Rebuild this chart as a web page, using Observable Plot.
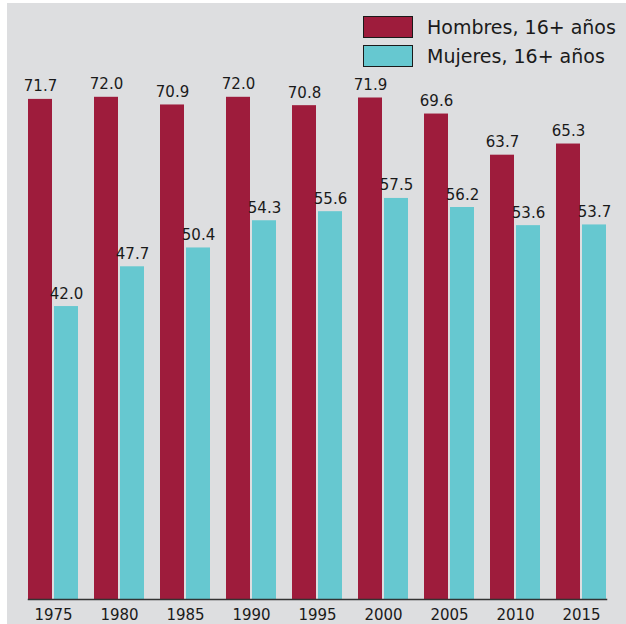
<!DOCTYPE html>
<html>
<head>
<meta charset="utf-8">
<script src="https://cdn.jsdelivr.net/npm/d3@7"></script>
<script src="https://cdn.jsdelivr.net/npm/@observablehq/plot@0.6"></script>
<style>
  html, body { margin: 0; padding: 0; background: #ffffff; }
  #panel { position: absolute; left: 7px; top: 3px; width: 619px; height: 621px; background: #dddee0; overflow: hidden; }
  #chart { position: absolute; left: 0; top: 0; }
  .leg { position: absolute; left: 356px; font-family: "DejaVu Sans", sans-serif; font-size: 19px; color: #1a1a1a; }
  .leg .row { position: absolute; left: 0; height: 22px; line-height: 22px; white-space: nowrap; }
  .leg .box { position: absolute; left: 0; top: 0; width: 50px; height: 22px; box-sizing: border-box; border: 1.5px solid #1a1a1a; }
  .leg .lab { position: absolute; left: 64px; top: 0; }
</style>
</head>
<body>
<div id="panel">
  <div id="chart"></div>
  <div class="leg" id="legend"></div>
</div>
<script>
const years = ["1975", "1980", "1985", "1990", "1995", "2000", "2005", "2010", "2015"];
const hombres = [71.7, 72.0, 70.9, 72.0, 70.8, 71.9, 69.6, 63.7, 65.3];
const mujeres = [42.0, 47.7, 50.4, 54.3, 55.6, 57.5, 56.2, 53.6, 53.7];
const series = ["Hombres, 16+ años", "Mujeres, 16+ años"];
const colors = ["#9e1c3c", "#66c8d0"];

const data = years.flatMap((y, i) => [
  {year: y, serie: series[0], value: hombres[i]},
  {year: y, serie: series[1], value: mujeres[i]}
]);

const chart = Plot.plot({
  width: 619,
  height: 621,
  marginLeft: 19,
  marginRight: 19,
  marginTop: 38,
  marginBottom: 25,
  style: {background: "transparent", fontFamily: "DejaVu Sans, sans-serif", fontSize: "15px", color: "#1a1a1a"},
  fx: {domain: years, paddingInner: 0.247, paddingOuter: 0, label: null, axis: "bottom", tickSize: 0, tickPadding: 10},
  x: {domain: series, paddingInner: 0.077, paddingOuter: 0, axis: null},
  y: {domain: [0, 80], axis: null},
  color: {domain: series, range: colors},
  marks: [
    Plot.barY(data, {fx: "year", x: "serie", y: "value", fill: "serie"}),
    Plot.text(data, {fx: "year", x: "serie", y: "value", text: d => d.value.toFixed(1), lineAnchor: "bottom", dy: -8, fill: "#1a1a1a", fontSize: 15}),
    Plot.frame({anchor: "bottom", facet: "super", stroke: "#333333", strokeWidth: 1.5})
  ]
});
document.getElementById("chart").appendChild(chart);

const legend = document.getElementById("legend");
series.forEach((s, i) => {
  const row = document.createElement("div");
  row.className = "row";
  row.style.top = (13 + i * 29) + "px";
  const box = document.createElement("div");
  box.className = "box";
  box.style.background = colors[i];
  const lab = document.createElement("div");
  lab.className = "lab";
  lab.textContent = s;
  row.appendChild(box);
  row.appendChild(lab);
  legend.appendChild(row);
});
</script>
</body>
</html>
